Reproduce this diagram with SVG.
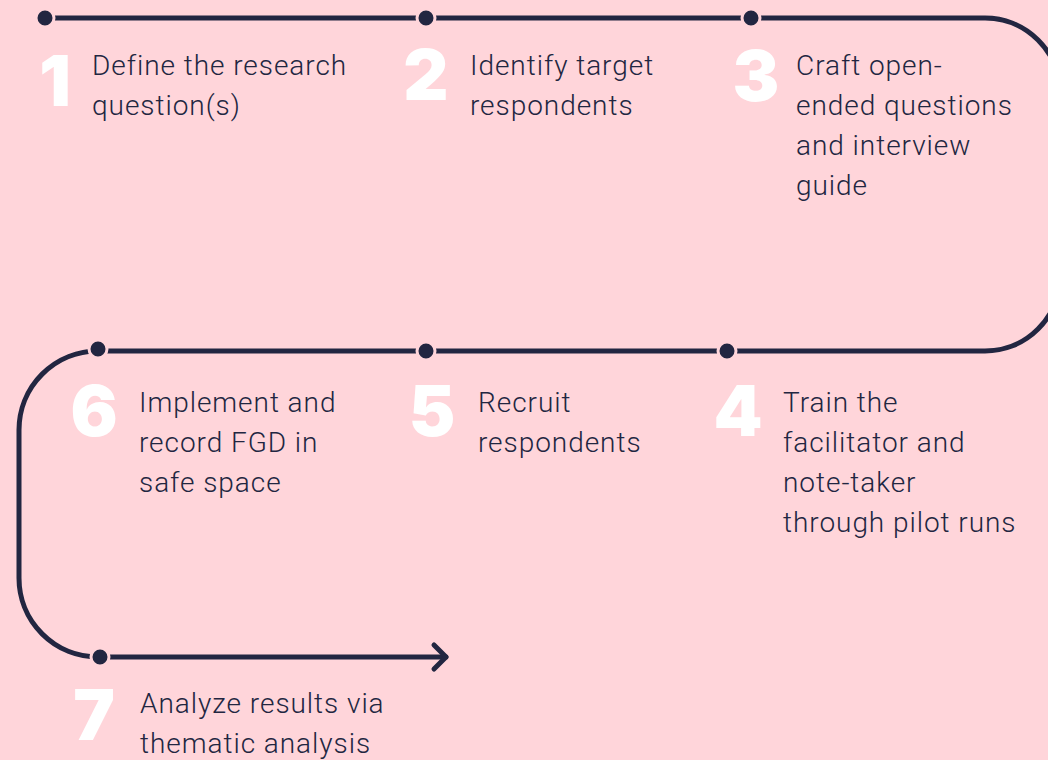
<svg xmlns="http://www.w3.org/2000/svg" width="1048" height="760" viewBox="0 0 1048 760">
  <style>
    .track { fill: none; stroke: #222641; stroke-width: 5; stroke-linecap: round; stroke-linejoin: round; }
    .dot { fill: #222641; stroke: #FFD5DA; stroke-width: 3; }
    .num { font-family: Inter, "Open Sans", "Liberation Sans", sans-serif; font-weight: 900; font-size: 70px; fill: #FFFFFF; text-anchor: middle; }
    .lbl { font-family: Roboto, "Liberation Sans", sans-serif; font-weight: 300; font-size: 28px; letter-spacing: 0.95px; fill: #222641; }
  </style>
  <rect width="1048" height="760" fill="#FFD5DA"/>

  <g id="connectors">
    <path class="track" d="M45 18 H985 A75 75 0 0 1 1060 93 V276 A75 75 0 0 1 985 351 H98 A79 79 0 0 0 19 430 V578 A79 79 0 0 0 98 657 H446"/>
    <polyline class="track" points="434,645 446,657 434,669"/>
  </g>

  <g id="step1">
    <circle class="dot" cx="45" cy="18" r="9"/>
    <text class="num" x="55" y="106">1</text>
    <text class="lbl" x="92" y="75">Define the research</text>
    <text class="lbl" x="92" y="115">question(s)</text>
  </g>

  <g id="step2">
    <circle class="dot" cx="426" cy="18" r="9"/>
    <text class="num" x="426" y="100">2</text>
    <text class="lbl" x="470" y="75">Identify target</text>
    <text class="lbl" x="470" y="115">respondents</text>
  </g>

  <g id="step3">
    <circle class="dot" cx="751" cy="18" r="9"/>
    <text class="num" x="756" y="101">3</text>
    <text class="lbl" x="796" y="75">Craft open-</text>
    <text class="lbl" x="796" y="115">ended questions</text>
    <text class="lbl" x="796" y="155">and interview</text>
    <text class="lbl" x="796" y="195">guide</text>
  </g>

  <g id="step4">
    <circle class="dot" cx="727" cy="351" r="9"/>
    <text class="num" x="738" y="436">4</text>
    <text class="lbl" x="783" y="412">Train the</text>
    <text class="lbl" x="783" y="452">facilitator and</text>
    <text class="lbl" x="783" y="492">note-taker</text>
    <text class="lbl" x="783" y="532">through pilot runs</text>
  </g>

  <g id="step5">
    <circle class="dot" cx="426" cy="351" r="9"/>
    <text class="num" x="432" y="436">5</text>
    <text class="lbl" x="478" y="412">Recruit</text>
    <text class="lbl" x="478" y="452">respondents</text>
  </g>

  <g id="step6">
    <circle class="dot" cx="98" cy="349" r="9"/>
    <text class="num" x="94" y="436">6</text>
    <text class="lbl" x="139" y="412">Implement and</text>
    <text class="lbl" x="139" y="452">record FGD in</text>
    <text class="lbl" x="139" y="492">safe space</text>
  </g>

  <g id="step7">
    <circle class="dot" cx="100" cy="657" r="9"/>
    <text class="num" x="94" y="740">7</text>
    <text class="lbl" x="140" y="713">Analyze results via</text>
    <text class="lbl" x="140" y="753">thematic analysis</text>
  </g>
</svg>
